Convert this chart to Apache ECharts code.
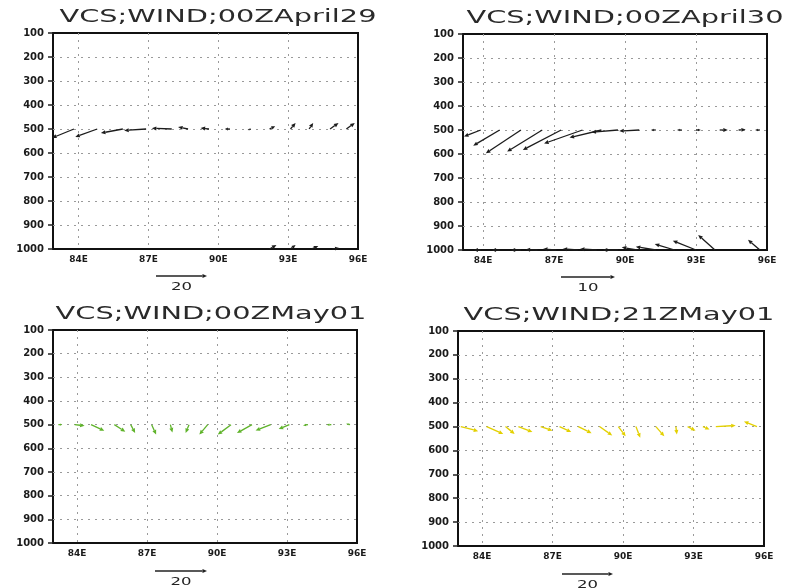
<!DOCTYPE html>
<html>
<head>
<meta charset="utf-8">
<script src="https://cdn.jsdelivr.net/npm/echarts@6/dist/echarts.min.js"></script>
<style>
  html, body { margin: 0; background: #fff; }
  #main { width: 790px; height: 588px; }
</style>
</head>
<body>
<div id="main"></div>
<script>
// titles, ticks, reference vector values
const titles = ['VCS;WIND;00ZApril29', 'VCS;WIND;00ZApril30', 'VCS;WIND;00ZMay01', 'VCS;WIND;21ZMay01'];
const refValues = [20, 10, 20, 20];
const lonTicks = [84, 87, 90, 93, 96];
const lonLabels = ['84E', '87E', '90E', '93E', '96E'];

// 00Z April 29
const apr29Lon500 = [83.8, 84.8, 85.9, 86.9, 88.0, 88.7, 89.6, 90.5, 91.4, 92.2, 93.1, 93.9, 94.8, 95.5];
const apr29U500 = [-8.6, -8.6, -8.6, -8.6, -7.8, -3.9, -3.3, -2.0, -1.3, 2.2, 2.0, 1.6, 3.3, 3.3];
const apr29W500 = [-3.5, -3.1, -1.6, -0.6, 0.3, 0.8, 0.4, 0, -0.4, 1.1, 2.4, 2.4, 2.4, 2.4];
const apr29Lon1000 = [92.2, 93.1, 94.0, 94.9];
const apr29U1000 = [2.7, 2.0, 2.7, 2.7];
const apr29W1000 = [1.6, 1.6, 1.2, 0.4];

// 00Z April 30
const apr30Lon500 = [83.9, 84.7, 85.6, 86.5, 87.3, 88.2, 89.0, 89.7, 90.6, 91.3, 92.4, 93.0, 94.0, 94.8, 95.7];
const apr30U500 = [-3.1, -4.9, -6.5, -6.5, -7.1, -7.1, -5.9, -4.9, -3.7, -0.9, -0.9, 0.9, 1.5, 1.3, -0.9];
const apr30W500 = [-1.2, -2.9, -4.3, -4.0, -3.7, -2.5, -1.4, -0.4, -0.2, 0, 0, 0, 0, 0.1, 0];
const apr30Lon1000 = [83.9, 84.7, 85.6, 86.3, 87.1, 88.0, 88.8, 89.7, 90.5, 91.3, 92.1, 93.0, 93.8, 95.7];
const apr30U1000 = [-1.3, -1.5, -1.9, -2.2, -2.5, -2.8, -3.1, -2.8, -2.8, -3.7, -3.7, -4.3, -3.1, -2.2];
const apr30W1000 = [0, 0, 0, 0.1, 0.2, 0.2, 0.2, 0, 0.5, 0.6, 1.1, 1.7, 2.8, 1.9];

// 00Z May 01
const may01Lon500 = [83.2, 83.9, 84.6, 85.6, 86.3, 87.2, 88.0, 88.8, 89.6, 90.6, 91.5, 92.3, 93.1, 93.9, 94.9, 95.7];
const may01U500 = [1.5, 3.8, 5.1, 4.2, 1.7, 1.7, 0.8, -1.3, -3.2, -5.1, -5.8, -5.8, -4.1, -1.9, -1.8, -1.5];
const may01W500 = [0, -0.4, -2.3, -2.7, -3.2, -3.8, -3.0, -3.2, -3.8, -3.8, -3.2, -2.2, -1.7, -0.3, 0, 0.4];

// 21Z May 01
const may21Lon500 = [83.1, 84.2, 85.0, 85.55, 86.5, 87.3, 88.1, 89.0, 89.8, 90.55, 91.4, 92.25, 92.75, 93.4, 93.95, 95.7];
const may21U500 = [6.8, 6.5, 3.6, 5.5, 4.6, 4.6, 5.2, 5.0, 2.9, 1.7, 3.3, 0.4, 3.1, 2.6, 7.8, -5.1];
const may21W500 = [-1.8, -2.9, -2.9, -2.1, -1.6, -2.1, -2.6, -3.5, -3.8, -4.4, -3.8, -3.1, -1.6, -1.2, 0.4, 2.0];

function rows(level, lons, us, ws) {
    return lons.map((lon, i) => [lon, level, us[i], ws[i]]);
}

const panelData = [
    rows(500, apr29Lon500, apr29U500, apr29W500).concat(rows(1000, apr29Lon1000, apr29U1000, apr29W1000)),
    rows(500, apr30Lon500, apr30U500, apr30W500).concat(rows(1000, apr30Lon1000, apr30U1000, apr30W1000)),
    rows(500, may01Lon500, may01U500, may01W500),
    rows(500, may21Lon500, may21U500, may21W500)
];

// layout
const grids = [
    { left: 53, top: 33, width: 305, height: 216 },
    { left: 463, top: 34, width: 304, height: 216 },
    { left: 53, top: 330, width: 304, height: 213 },
    { left: 458, top: 331, width: 306, height: 215 }
];
const xMins = [82.9, 83.15, 82.97, 82.98];
const colors = ['#1c1c1c', '#1c1c1c', '#5fb32a', '#e3d000'];
const pxPerUnit = [2.55, 5.4, 2.6, 2.55];
const titlePos = [[218, 17], [625, 18], [211, 314], [619, 315]];
const keyPos = [[156, 276], [561, 277], [155, 571], [562, 574]];

function arrowShapes(x0, y0, dx, dy, color, lw) {
    const len = Math.hypot(dx, dy);
    if (len < 0.3) return [];
    const ux = dx / len, uy = dy / len;
    const h = Math.min(4.5, len * 0.6), w = h * 0.45;
    const x1 = x0 + dx, y1 = y0 + dy;
    const bx = x1 - ux * h, by = y1 - uy * h;
    return [
        { type: 'line', shape: { x1: x0, y1: y0, x2: bx, y2: by }, style: { stroke: color, lineWidth: lw } },
        { type: 'polygon', shape: { points: [[x1, y1], [bx - uy * w, by + ux * w], [bx + uy * w, by - ux * w]] }, style: { fill: color } }
    ];
}

function vectorRender(k) {
    return function (params, api) {
        const p0 = api.coord([api.value(0), api.value(1)]);
        const dx = api.value(2) * pxPerUnit[k];
        const dy = -api.value(3) * pxPerUnit[k];
        return { type: 'group', children: arrowShapes(p0[0], p0[1], dx, dy, colors[k], 1.3) };
    };
}

const dotted = { color: '#9a9a9a', width: 1, type: [2, 5] };
const labelStyle = { color: '#1a1a1a', fontFamily: 'DejaVu Sans', fontWeight: 'bold' };

const graphic = [];
grids.forEach((g, k) => {
    graphic.push({
        type: 'text', x: titlePos[k][0], y: titlePos[k][1], scaleX: 1.6,
        style: { text: titles[k], x: 0, y: 0, align: 'center', verticalAlign: 'middle', fontSize: 18, fontFamily: 'DejaVu Sans', fill: '#2a2a2a' }
    });
    const len = refValues[k] * pxPerUnit[k];
    graphic.push({
        type: 'group',
        children: arrowShapes(keyPos[k][0], keyPos[k][1], len, 0, '#222', 1.3)
    });
    graphic.push({
        type: 'text', x: keyPos[k][0] + len / 2, y: keyPos[k][1] + 11, scaleX: 1.5,
        style: { text: String(refValues[k]), x: 0, y: 0, align: 'center', verticalAlign: 'middle', fontSize: 11, fontFamily: 'DejaVu Sans', fill: '#222' }
    });
});

const chart = echarts.init(document.getElementById('main'));
chart.setOption({
    animation: false,
    backgroundColor: '#fff',
    grid: grids.map(g => Object.assign({ show: true, borderColor: '#111', borderWidth: 2, backgroundColor: 'transparent' }, g)),
    xAxis: grids.map((g, k) => ({
        type: 'value', gridIndex: k, min: xMins[k], max: 96,
        axisLine: { show: false },
        axisTick: { show: false, customValues: lonTicks },
        axisLabel: Object.assign({
            customValues: lonTicks, fontSize: 9, margin: 6,
            formatter: v => lonLabels[lonTicks.indexOf(v)] || ''
        }, labelStyle),
        splitLine: { show: true, showMinLine: true, showMaxLine: false, lineStyle: dotted }
    })),
    yAxis: grids.map((g, k) => ({
        type: 'value', gridIndex: k, inverse: true, min: 100, max: 1000, interval: 100,
        axisLine: { show: false },
        axisTick: { show: true, length: 5, lineStyle: { color: '#222', width: 1.5 } },
        axisLabel: Object.assign({ fontSize: 10, margin: 9, formatter: v => String(v) }, labelStyle),
        splitLine: { show: true, showMinLine: false, showMaxLine: false, lineStyle: dotted }
    })),
    series: panelData.map((d, k) => ({
        type: 'custom', xAxisIndex: k, yAxisIndex: k,
        encode: { x: 0, y: 1 },
        renderItem: vectorRender(k),
        data: d
    })),
    graphic: graphic
});
</script>
</body>
</html>
